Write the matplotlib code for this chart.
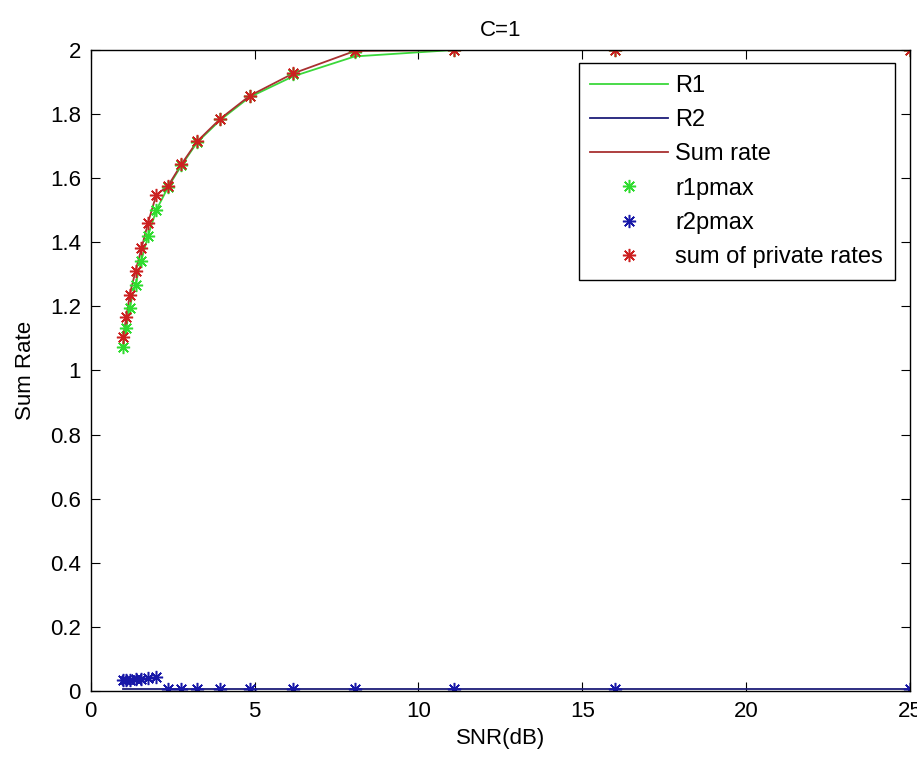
import numpy as np
import matplotlib
matplotlib.use('Agg')
import matplotlib.pyplot as plt

plt.rcParams['font.family'] = ['Liberation Sans', 'DejaVu Sans']

# SNR points
snr = [0.99, 1.09, 1.19, 1.37, 1.55, 1.75, 2.0, 2.36, 2.77, 3.25, 3.96, 4.85, 6.18, 8.06, 11.08, 16.0, 25.0]

# line series
R1 = [1.075, 1.135, 1.198, 1.27, 1.345, 1.42, 1.50, 1.572, 1.640, 1.712, 1.782, 1.853, 1.918, 1.980, 2.0, 2.0, 2.0]
R2 = [0.006] * 17
sum_rate = [1.105, 1.168, 1.236, 1.311, 1.381, 1.461, 1.548, 1.576, 1.644, 1.715, 1.786, 1.857, 1.927, 1.997, 2.0, 2.0, 2.0]

# marker series
r1pmax = [1.072, 1.133, 1.196, 1.267, 1.343, 1.419, 1.501, 1.574, 1.642, 1.713, 1.784, 1.855, 1.925, 1.995, 2.0, 2.0, 2.0]
r2pmax = [0.033, 0.035, 0.034, 0.036, 0.038, 0.040, 0.045, 0.006, 0.006, 0.006, 0.006, 0.006, 0.006, 0.006, 0.006, 0.006, 0.006]
sum_priv = [1.105, 1.168, 1.236, 1.311, 1.381, 1.461, 1.548, 1.576, 1.644, 1.715, 1.786, 1.857, 1.927, 1.998, 2.0, 2.0, 2.0]

FS = 16

fig = plt.figure(figsize=(9.17, 7.6), dpi=100)
ax = fig.add_axes([0.0989, 0.0908, 0.8935, 0.8434])

star = (8, 2, 0)
ax.plot(snr, R1, color='#3ad83a', lw=1.3, label='R1')
ax.plot(snr, R2, color='#1c1c78', lw=1.3, label='R2')
ax.plot(snr, sum_rate, color='#a83030', lw=1.3, label='Sum rate')
ax.plot(snr, r1pmax, ls='none', marker=star, ms=9.5, mew=1.1, color='#2fdc2f', label='r1pmax')
ax.plot(snr, r2pmax, ls='none', marker=star, ms=9.5, mew=1.1, color='#1818a8', label='r2pmax')
ax.plot(snr, sum_priv, ls='none', marker=star, ms=9.5, mew=1.1, color='#cc2020', label='sum of private rates')

ax.set_xlim(0, 25)
ax.set_ylim(0, 2)
ax.set_xticks([0, 5, 10, 15, 20, 25])
ax.set_yticks(np.arange(0, 2.01, 0.2))
ax.set_yticklabels(['0', '0.2', '0.4', '0.6', '0.8', '1', '1.2', '1.4', '1.6', '1.8', '2'])
ax.tick_params(direction='in', top=True, right=True, length=6.5, labelsize=FS, colors='black')
ax.tick_params(axis='y', pad=7)
ax.tick_params(axis='x', pad=7)
for s in ax.spines.values():
    s.set_linewidth(1.0)

ax.set_title('C=1', fontsize=FS, pad=10)
ax.set_xlabel('SNR(dB)', fontsize=FS)
ax.set_ylabel('Sum Rate', fontsize=FS)
ax.xaxis.set_label_coords(0.5, -0.058)
ax.yaxis.set_label_coords(-0.067, 0.5)

leg = ax.legend(loc='upper right', bbox_to_anchor=(0.9817, 0.9797), borderaxespad=0,
                fontsize=17, fancybox=False, edgecolor='black', framealpha=1,
                handlelength=3.3, handletextpad=0.3, labelspacing=0.52, borderpad=0.5)
leg.get_frame().set_linewidth(1.0)

fig.savefig('out.png', dpi=100)
